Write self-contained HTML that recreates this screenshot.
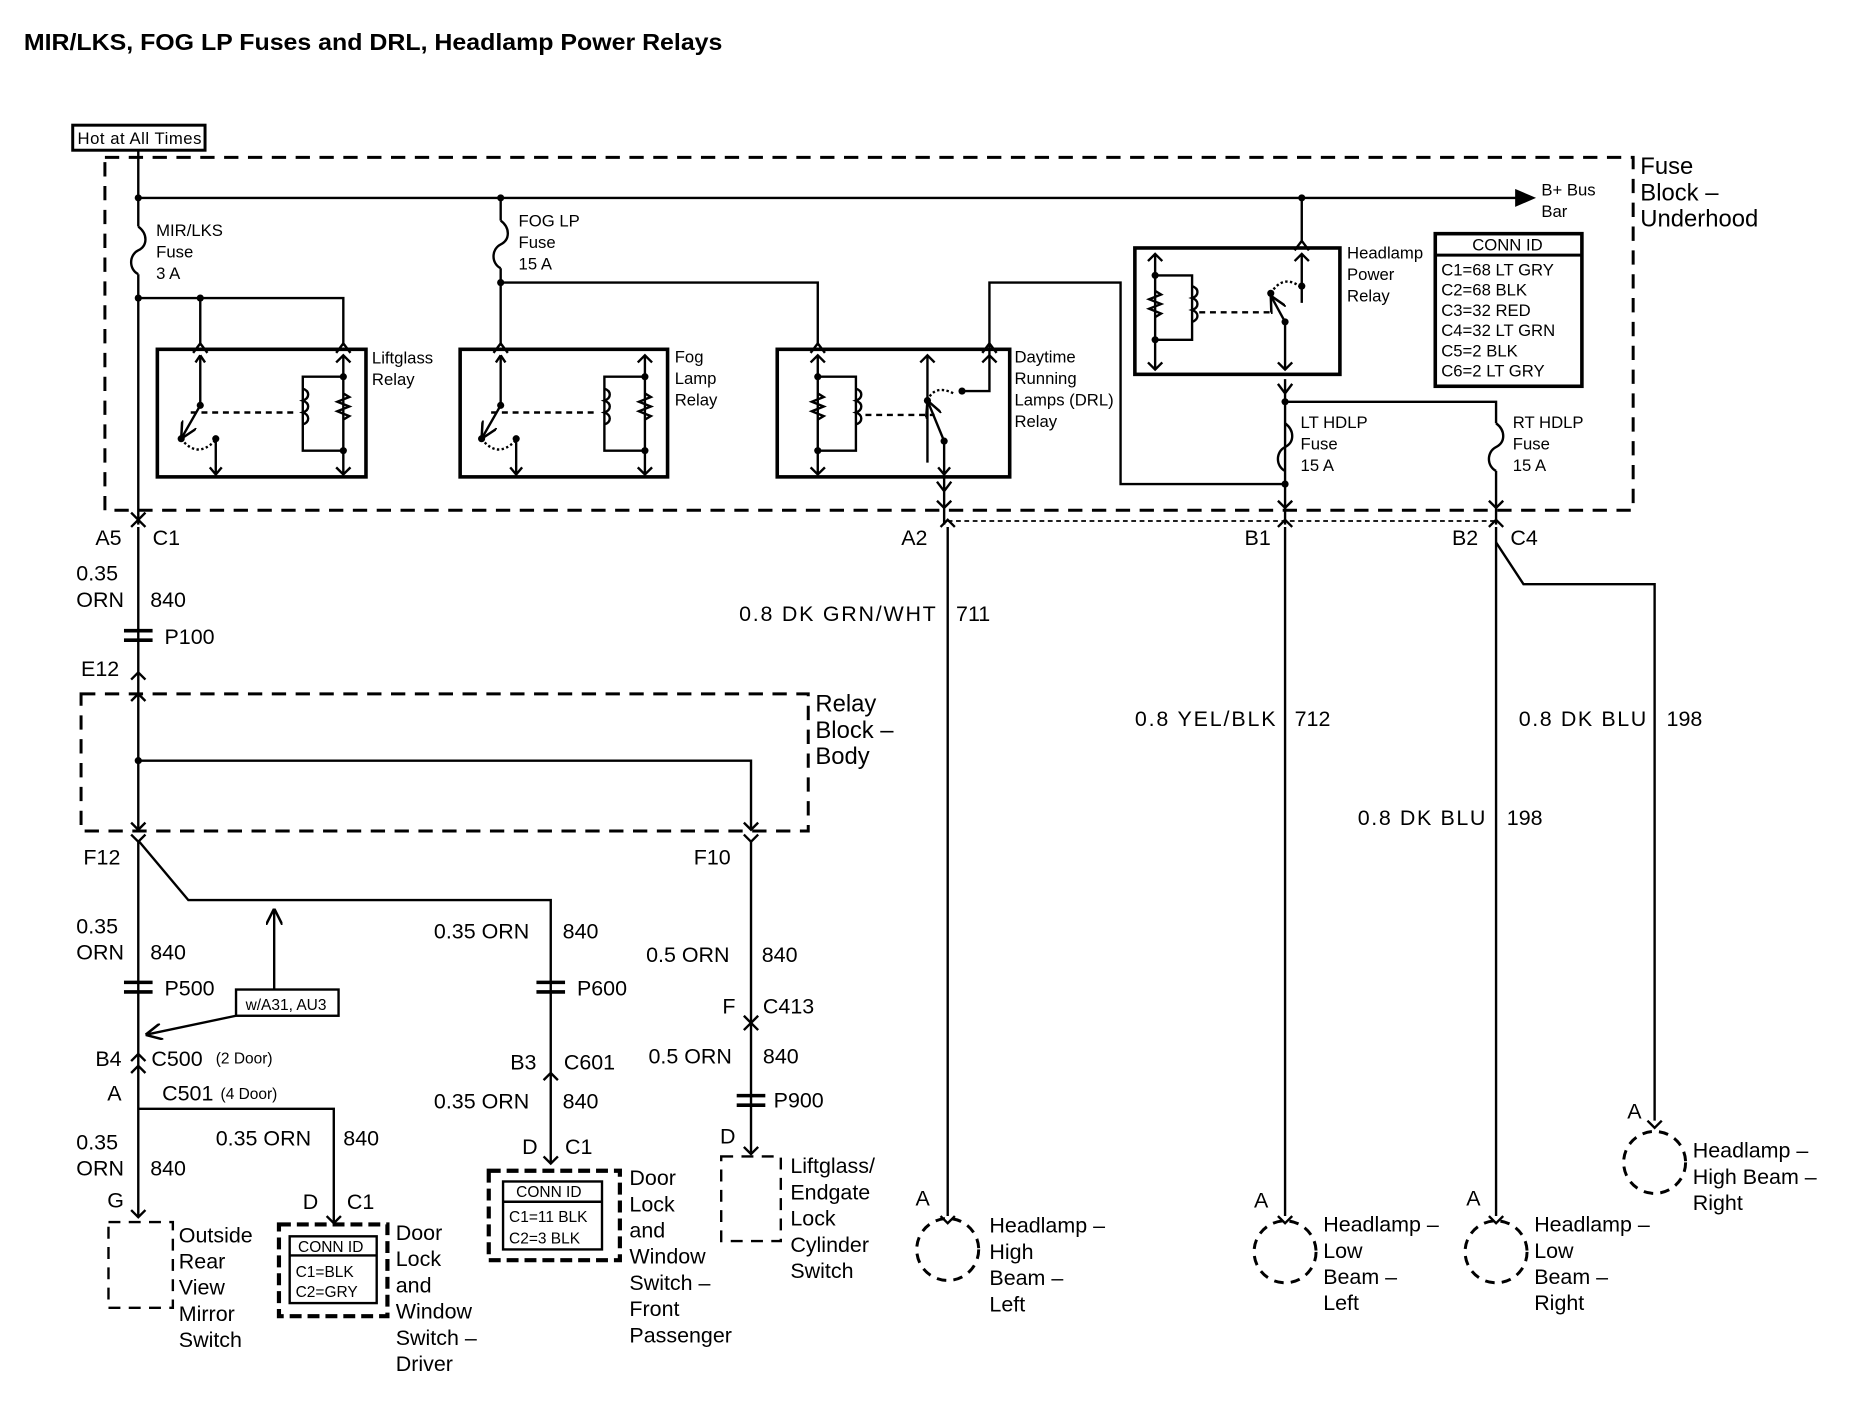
<!DOCTYPE html>
<html><head><meta charset="utf-8"><style>
html,body{margin:0;padding:0;background:#fff}
svg{display:block}
text{font-family:"Liberation Sans",sans-serif;fill:#000}
.s{font-size:14px}
.m{font-size:18px}
.l{font-size:20px}
</style></head><body>
<svg width="1868" height="1408" viewBox="0 0 1567 1181" preserveAspectRatio="none" xmlns="http://www.w3.org/2000/svg">
<defs>
<marker id="ar" viewBox="0 0 10 10" refX="10" refY="5" markerWidth="7" markerHeight="7" orient="auto"><path d="M0,0 L10,5 L0,10" fill="none" stroke="#000" stroke-width="1.5"/></marker>
</defs>
<g stroke="#000" stroke-width="2" fill="none">
<rect x="61" y="105" width="111" height="21" stroke-width="2.5"/>
<rect x="88" y="132" width="1282" height="296" stroke-dasharray="12,8" stroke-width="2.5"/>
<line x1="116" y1="126" x2="116" y2="190"/>
<line x1="116" y1="166" x2="1275" y2="166"/>
<path d="M1272,160 L1286,166 L1272,172 Z" fill="#000"/>
<path d="M116,190 C124,196 124,206 116,210 C108,214 108,226 116,230"/>
<line x1="116" y1="230" x2="116" y2="440"/>
<path d="M116,250 H288 V290 M168,250 V290"/>
<path d="M162,296 L168,288 L174,296 M282,296 L288,288 L294,296"/>
<line x1="420" y1="166" x2="420" y2="185"/>
<path d="M420,185 C428,191 428,201 420,205 C412,209 412,221 420,225"/>
<path d="M420,225 V290 M420,237 H686 V290"/>
<path d="M414,296 L420,288 L426,296 M680,296 L686,288 L692,296"/>
<rect x="132" y="293" width="175" height="107" stroke-width="3"/>
<rect x="386" y="293" width="174" height="107" stroke-width="3"/>
<rect x="652" y="293" width="195" height="107" stroke-width="3"/>
<rect x="952" y="208" width="172" height="106" stroke-width="3"/>
<path d="M168,298 V340 L152,368" marker-end="url(#ar)"/>
<path d="M168,298 l-4,6 M168,298 l4,6"/>
<path d="M152,368 Q165,385 180,370" stroke-dasharray="2,2"/>
<path d="M181,368 V398 M176,392 l5,6 l5,-6"/>
<line x1="160" y1="346" x2="248" y2="346" stroke-dasharray="5,4"/>
<path d="M288,298 V398 M282,304 l6,-6 l6,6 M282,392 l6,6 l6,-6"/>
<path d="M288,316 H254 V378 H288"/>
<path d="M254,326 c6,2 6,8 0,10 c6,2 6,8 0,10 c6,2 6,8 0,10"/>
<path d="M288,330 l5,3 l-10,4 l10,4 l-10,4 l10,4 l-5,3"/>
<path d="M420,298 V340 L404,368" marker-end="url(#ar)"/>
<path d="M420,298 l-4,6 M420,298 l4,6"/>
<path d="M404,368 Q417,385 432,370" stroke-dasharray="2,2"/>
<path d="M433,368 V398 M428,392 l5,6 l5,-6"/>
<line x1="412" y1="346" x2="500" y2="346" stroke-dasharray="5,4"/>
<path d="M541,298 V398 M535,304 l6,-6 l6,6 M535,392 l6,6 l6,-6"/>
<path d="M541,316 H507 V378 H541"/>
<path d="M507,326 c6,2 6,8 0,10 c6,2 6,8 0,10 c6,2 6,8 0,10"/>
<path d="M541,330 l5,3 l-10,4 l10,4 l-10,4 l10,4 l-5,3"/>
<path d="M686,298 V398 M680,304 l6,-6 l6,6 M680,392 l6,6 l6,-6"/>
<path d="M686,316 H718 V378 H686"/>
<path d="M718,326 c6,2 6,8 0,10 c6,2 6,8 0,10 c6,2 6,8 0,10"/>
<path d="M686,330 l5,3 l-10,4 l10,4 l-10,4 l10,4 l-5,3"/>
<line x1="726" y1="348" x2="784" y2="348" stroke-dasharray="5,4"/>
<path d="M778,298 V388 M772,304 l6,-6 l6,6"/>
<path d="M792,370 L778,336" marker-end="url(#ar)"/>
<path d="M792,370 V398 M787,392 l5,6 l5,-6"/>
<path d="M778,336 Q784,322 800,330" stroke-dasharray="2,2"/>
<path d="M807,328 H830 V237 H940 V406 H1078"/>
<path d="M824,296 l6,-8 l6,8 M824,304 l6,-6 l6,6"/>
<path d="M792,400 V440 M786,404 l6,8 l6,-8 M786,420 l6,6 l6,-6"/>
<path d="M1092,166 V204 M1086,210 l6,-8 l6,8"/>
<path d="M969,213 V310 M963,219 l6,-6 l6,6 M963,304 l6,6 l6,-6"/>
<path d="M969,231 H1000 V285 H969"/>
<path d="M1000,240 c6,2 6,8 0,10 c6,2 6,8 0,10 c6,2 6,8 0,10"/>
<path d="M969,244 l5,3 l-10,4 l10,4 l-10,4 l10,4 l-5,3"/>
<line x1="1006" y1="262" x2="1066" y2="262" stroke-dasharray="5,4"/>
<path d="M1092,213 V254 M1086,219 l6,-6 l6,6"/>
<path d="M1078,270 L1066,248" marker-end="url(#ar)"/>
<path d="M1066,246 Q1076,230 1090,240" stroke-dasharray="2,2"/>
<path d="M1078,270 V310 M1072,304 l6,6 l6,-6"/>
<path d="M1078,318 V440 M1072,322 l6,8 l6,-8"/>
<path d="M1078,337 H1255 V355"/>
<path d="M1078,355 C1086,361 1086,371 1078,375 C1070,379 1070,391 1078,395"/>
<path d="M1255,355 C1263,361 1263,371 1255,375 C1247,379 1247,391 1255,395"/>
<path d="M1255,395 V440 M1072,420 l6,6 l6,-6 M1249,420 l6,6 l6,-6"/>
<rect x="1204" y="196" width="123" height="128" stroke-width="3"/>
<line x1="1204" y1="214" x2="1327" y2="214" stroke-width="2.5"/>
<path d="M110,442 l6,-6 l6,6 M110,430 l6,6 l6,-6"/>
<path d="M789,442 l6,-6 l6,6 M1072,442 l6,-6 l6,6 M1249,442 l6,-6 l6,6"/>
<line x1="795" y1="437" x2="1255" y2="437" stroke-dasharray="4,3" stroke-width="1.5"/>
<path d="M116,442 V697"/>
<path d="M795,442 V1020 M1078,442 V1020 M1255,442 V1020"/>
<path d="M1255,455 L1278,490 H1388 V940"/>
<path d="M104,529 H128 M104,537 H128" stroke-width="3"/>
<path d="M110,570 l6,-6 l6,6"/>
<rect x="68" y="582" width="610" height="115" stroke-dasharray="12,8" stroke-width="2.5"/>
<path d="M116,638 H630 V695 M110,588 l6,-6 l6,6 M110,690 l6,6 l6,-6 M624,690 l6,6 l6,-6"/>
<path d="M110,700 l6,6 l6,-6 M624,700 l6,6 l6,-6"/>
<path d="M116,705 V1020"/>
<path d="M116,705 L158,755 H462 V975"/>
<path d="M630,705 V968"/>
<path d="M104,824 H128 M104,832 H128 M450,824 H474 M450,832 H474 M618,919 H642 M618,927 H642" stroke-width="3"/>
<path d="M624,852 l6,6 l6,-6 M624,864 l6,-6 l6,6"/>
<path d="M110,890 l6,-6 l6,6 M110,900 l6,-6 l6,6"/>
<path d="M116,930 H280 V1025"/>
<path d="M456,906 l6,-6 l6,6 M456,970 l6,6 l6,-6 M110,1015 l6,6 l6,-6 M274,1020 l6,6 l6,-6 M624,962 l6,6 l6,-6"/>
<rect x="198" y="830" width="86" height="22" stroke-width="2"/>
<path d="M230,830 V762" marker-end="url(#ar)"/>
<path d="M198,852 L122,868" marker-end="url(#ar)"/>
<rect x="91" y="1025" width="54" height="72" stroke-dasharray="10,7" stroke-width="2"/>
<rect x="234" y="1027" width="91" height="77" stroke-dasharray="10,5" stroke-width="3.5"/>
<rect x="243" y="1037" width="73" height="56" stroke-width="2"/>
<line x1="243" y1="1053" x2="316" y2="1053"/>
<rect x="410" y="982" width="110" height="75" stroke-dasharray="10,5" stroke-width="3.5"/>
<rect x="422" y="991" width="83" height="57" stroke-width="2"/>
<line x1="422" y1="1008" x2="505" y2="1008"/>
<rect x="605" y="970" width="50" height="71" stroke-dasharray="10,7" stroke-width="2"/>
<path d="M789,1020 l6,6 l6,-6 M1072,1020 l6,6 l6,-6 M1249,1020 l6,6 l6,-6 M1382,940 l6,6 l6,-6"/>
<circle cx="795" cy="1048" r="26" stroke-dasharray="8,6" stroke-width="2.5"/>
<circle cx="1078" cy="1050" r="26" stroke-dasharray="8,6" stroke-width="2.5"/>
<circle cx="1255" cy="1050" r="26" stroke-dasharray="8,6" stroke-width="2.5"/>
<circle cx="1388" cy="975" r="26" stroke-dasharray="8,6" stroke-width="2.5"/>
</g>
<g fill="#000" stroke="none">
<circle cx="116" cy="166" r="3"/><circle cx="420" cy="166" r="3"/><circle cx="1092" cy="166" r="3"/>
<circle cx="116" cy="250" r="3"/><circle cx="168" cy="250" r="3"/><circle cx="420" cy="237" r="3"/>
<circle cx="116" cy="638" r="3"/><circle cx="1078" cy="337" r="3"/><circle cx="1078" cy="406" r="3"/>
<circle cx="288" cy="316" r="3"/><circle cx="288" cy="378" r="3"/><circle cx="541" cy="316" r="3"/><circle cx="541" cy="378" r="3"/>
<circle cx="686" cy="316" r="3"/><circle cx="686" cy="378" r="3"/><circle cx="969" cy="231" r="3"/><circle cx="969" cy="285" r="3"/>
<circle cx="168" cy="340" r="3"/><circle cx="152" cy="368" r="3"/><circle cx="181" cy="368" r="3"/>
<circle cx="420" cy="340" r="3"/><circle cx="404" cy="368" r="3"/><circle cx="433" cy="368" r="3"/>
<circle cx="778" cy="336" r="3"/><circle cx="792" cy="370" r="3"/><circle cx="807" cy="328" r="3"/>
<circle cx="1066" cy="246" r="3"/><circle cx="1078" cy="270" r="3"/><circle cx="1092" cy="240" r="3"/>
</g>
<text x="20" y="42" style="font-size:19px;font-weight:bold" textLength="586" lengthAdjust="spacingAndGlyphs">MIR/LKS, FOG LP Fuses and DRL, Headlamp Power Relays</text>
<text x="65" y="121" class="s" textLength="104">Hot at All Times</text>
<g class="s">
<text x="131" y="198">MIR/LKS</text><text x="131" y="216">Fuse</text><text x="131" y="234">3 A</text>
<text x="435" y="190">FOG LP</text><text x="435" y="208">Fuse</text><text x="435" y="226">15 A</text>
<text x="312" y="305">Liftglass</text><text x="312" y="323">Relay</text>
<text x="566" y="304">Fog</text><text x="566" y="322">Lamp</text><text x="566" y="340">Relay</text>
<text x="851" y="304">Daytime</text><text x="851" y="322">Running</text><text x="851" y="340">Lamps (DRL)</text><text x="851" y="358">Relay</text>
<text x="1130" y="217">Headlamp</text><text x="1130" y="235">Power</text><text x="1130" y="253">Relay</text>
<text x="1293" y="164">B+ Bus</text><text x="1293" y="182">Bar</text>
<text x="1235" y="210">CONN ID</text>
<text x="1209" y="231">C1=68 LT GRY</text><text x="1209" y="248">C2=68 BLK</text><text x="1209" y="265">C3=32 RED</text>
<text x="1209" y="282">C4=32 LT GRN</text><text x="1209" y="299">C5=2 BLK</text><text x="1209" y="316">C6=2 LT GRY</text>
<text x="1091" y="359">LT HDLP</text><text x="1091" y="377">Fuse</text><text x="1091" y="395">15 A</text>
<text x="1269" y="359">RT HDLP</text><text x="1269" y="377">Fuse</text><text x="1269" y="395">15 A</text>
<text x="206" y="847" style="font-size:13px">w/A31, AU3</text>
<text x="250" y="1050" style="font-size:13px">CONN ID</text><text x="248" y="1071" style="font-size:13px">C1=BLK</text><text x="248" y="1088" style="font-size:13px">C2=GRY</text>
<text x="433" y="1004" style="font-size:13px">CONN ID</text><text x="427" y="1025" style="font-size:13px">C1=11 BLK</text><text x="427" y="1043" style="font-size:13px">C2=3 BLK</text>
<text x="181" y="892" style="font-size:13px">(2 Door)</text><text x="185" y="922" style="font-size:13px">(4 Door)</text>
</g>
<g class="l">
<text x="1376" y="146">Fuse</text><text x="1376" y="168">Block –</text><text x="1376" y="190">Underhood</text>
<text x="684" y="597">Relay</text><text x="684" y="619">Block –</text><text x="684" y="641">Body</text>
</g>
<g class="m">
<text x="80" y="457">A5</text><text x="128" y="457">C1</text>
<text x="64" y="487">0.35</text><text x="64" y="509">ORN</text><text x="126" y="509">840</text>
<text x="138" y="540">P100</text><text x="68" y="567">E12</text>
<text x="70" y="725">F12</text><text x="582" y="725">F10</text>
<text x="64" y="783">0.35</text><text x="64" y="805">ORN</text><text x="126" y="805">840</text>
<text x="138" y="835">P500</text>
<text x="364" y="787">0.35 ORN</text><text x="472" y="787">840</text><text x="484" y="835">P600</text>
<text x="542" y="807">0.5 ORN</text><text x="639" y="807">840</text>
<text x="606" y="850">F</text><text x="640" y="850">C413</text>
<text x="544" y="892">0.5 ORN</text><text x="640" y="892">840</text><text x="649" y="929">P900</text>
<text x="604" y="959">D</text>
<text x="80" y="894">B4</text><text x="127" y="894">C500</text>
<text x="90" y="923">A</text><text x="136" y="923">C501</text>
<text x="428" y="897">B3</text><text x="473" y="897">C601</text>
<text x="364" y="930">0.35 ORN</text><text x="472" y="930">840</text>
<text x="181" y="961">0.35 ORN</text><text x="288" y="961">840</text>
<text x="64" y="964">0.35</text><text x="64" y="986">ORN</text><text x="126" y="986">840</text>
<text x="438" y="968">D</text><text x="474" y="968">C1</text>
<text x="90" y="1013">G</text><text x="254" y="1014">D</text><text x="291" y="1014">C1</text>
<text x="150" y="1042">Outside</text><text x="150" y="1064">Rear</text><text x="150" y="1086">View</text><text x="150" y="1108">Mirror</text><text x="150" y="1130">Switch</text>
<text x="332" y="1040">Door</text><text x="332" y="1062">Lock</text><text x="332" y="1084">and</text><text x="332" y="1106">Window</text><text x="332" y="1128">Switch –</text><text x="332" y="1150">Driver</text>
<text x="528" y="994">Door</text><text x="528" y="1016">Lock</text><text x="528" y="1038">and</text><text x="528" y="1060">Window</text><text x="528" y="1082">Switch –</text><text x="528" y="1104">Front</text><text x="528" y="1126">Passenger</text>
<text x="663" y="984">Liftglass/</text><text x="663" y="1006">Endgate</text><text x="663" y="1028">Lock</text><text x="663" y="1050">Cylinder</text><text x="663" y="1072">Switch</text>
<text x="756" y="457">A2</text><text x="1044" y="457">B1</text><text x="1218" y="457">B2</text><text x="1267" y="457">C4</text>
<text x="620" y="521" textLength="165">0.8 DK GRN/WHT</text><text x="802" y="521">711</text>
<text x="952" y="609" textLength="118">0.8 YEL/BLK</text><text x="1086" y="609">712</text>
<text x="1274" y="609" textLength="107">0.8 DK BLU</text><text x="1398" y="609">198</text>
<text x="1139" y="692" textLength="107">0.8 DK BLU</text><text x="1264" y="692">198</text>
<text x="768" y="1011">A</text><text x="1052" y="1013">A</text><text x="1230" y="1011">A</text><text x="1365" y="938">A</text>
<text x="830" y="1034">Headlamp –</text><text x="830" y="1056">High</text><text x="830" y="1078">Beam –</text><text x="830" y="1100">Left</text>
<text x="1110" y="1033">Headlamp –</text><text x="1110" y="1055">Low</text><text x="1110" y="1077">Beam –</text><text x="1110" y="1099">Left</text>
<text x="1287" y="1033">Headlamp –</text><text x="1287" y="1055">Low</text><text x="1287" y="1077">Beam –</text><text x="1287" y="1099">Right</text>
<text x="1420" y="971">Headlamp –</text><text x="1420" y="993">High Beam –</text><text x="1420" y="1015">Right</text>
</g>
</svg>
</body></html>
